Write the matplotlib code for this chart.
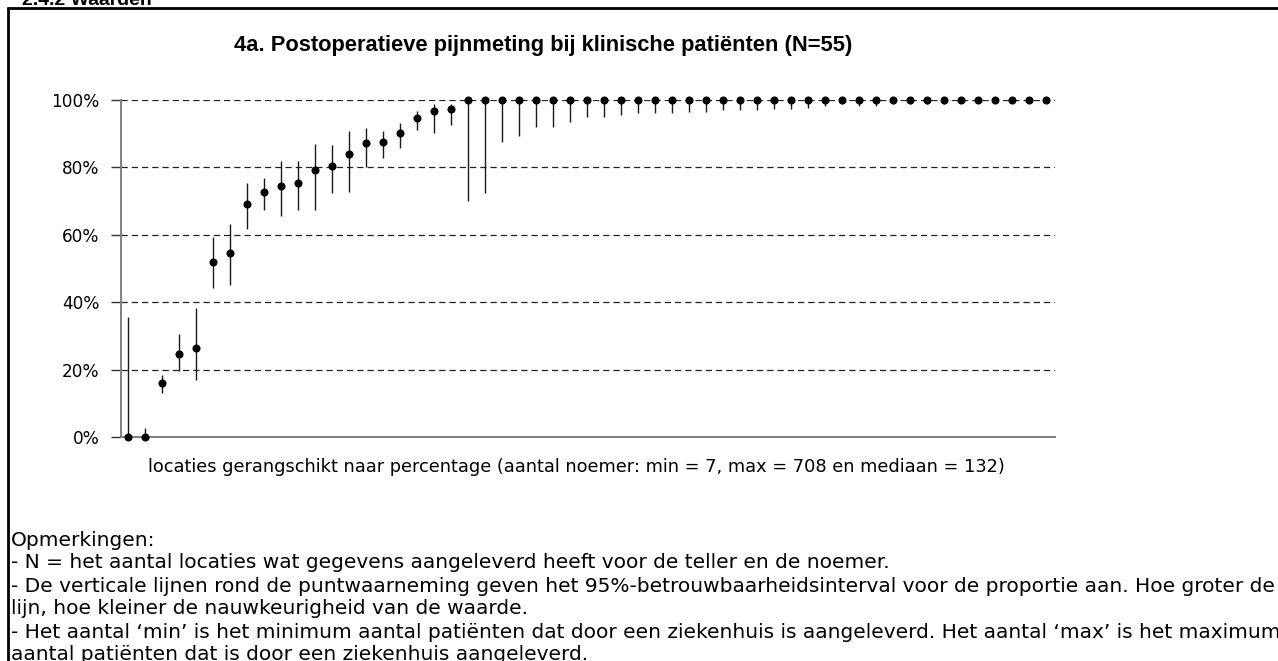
import matplotlib
matplotlib.use("Agg")
import matplotlib.pyplot as plt
from matplotlib.lines import Line2D

# ---------------- data ----------------
rate = [0, 0, 15.9, 24.7, 26.4, 52.0, 54.7, 69.0, 72.6, 74.4, 75.3, 79.2, 80.5, 84.1,
        87.1, 87.6, 90.2, 94.7, 96.8, 97.2] + [100] * 35
lower = [0, 0, 13.0, 19.5, 16.8, 44.2, 45.0, 61.7, 67.5, 65.7, 67.5, 67.5, 72.4, 72.7,
         80.1, 82.8, 85.9, 91.2, 90.3, 92.5,
         70.0, 72.3, 87.6, 89.3, 92.0, 92.0, 93.4,
         95.1, 95.1, 95.5, 96.0, 96.0, 96.0, 96.4, 96.4, 96.9, 96.9, 96.9, 97.3, 97.3,
         97.7,
         98.2, 98.7, 98.2, 98.2, 98.7, 98.7, 98.7, 98.7, 99.0, 99.0, 99.0, 99.2, 99.4, 99.6]
upper = [35.5, 2.7, 18.4, 30.7, 38.2, 59.3, 63.3, 75.5, 76.8, 81.8, 81.8, 87.0, 86.5, 90.9,
         91.8, 90.9, 93.1, 96.6, 98.8, 98.8] + [100] * 35
yticks = [0, 20, 40, 60, 80, 100]
ytick_labels = ["0%", "20%", "40%", "60%", "80%", "100%"]

header = "2.4.2 Waarden"
title = "4a. Postoperatieve pijnmeting bij klinische patiënten (N=55)"
xlabel = ("locaties gerangschikt naar percentage (aantal noemer: min = 7, "
          "max = 708 en mediaan = 132)")
notes = [
    "Opmerkingen:",
    "- N = het aantal locaties wat gegevens aangeleverd heeft voor de teller en de noemer.",
    "- De verticale lijnen rond de puntwaarneming geven het 95%-betrouwbaarheidsinterval voor de proportie aan. Hoe groter de",
    "lijn, hoe kleiner de nauwkeurigheid van de waarde.",
    "- Het aantal \u2018min\u2019 is het minimum aantal patiënten dat door een ziekenhuis is aangeleverd. Het aantal \u2018max\u2019 is het maximum",
    "aantal patiënten dat is door een ziekenhuis aangeleverd.",
]

# ---------------- figure ----------------
W, H = 1278, 661
fig = plt.figure(figsize=(W / 100, H / 100), dpi=100)
plt.rcParams['font.family'] = ['DejaVu Sans']


def fx(x):
    return x / W


def fy(y):
    return 1 - y / H


# document box
fig.add_artist(Line2D([fx(8), fx(8)], [fy(7), fy(H + 5)], color='black', lw=2.0,
                      solid_capstyle='butt'))
fig.add_artist(Line2D([fx(7), fx(W + 5)], [fy(7.5), fy(7.5)], color='black', lw=2.0,
                      solid_capstyle='butt'))

# axes placement
ax_l, ax_r, ax_t, ax_b = 121, 1055, 100, 437
ax = fig.add_axes([fx(ax_l), fy(ax_b), (ax_r - ax_l) / W, (ax_b - ax_t) / H])
n = len(rate)
x = list(range(1, n + 1))
ax.set_xlim(0.57, n + 0.55)
ax.set_ylim(0, 100)

for yv in yticks[1:]:
    ax.axhline(yv, color='#222222', lw=0.9, linestyle=(0, (5.0, 3.2)), zorder=1)

ax.vlines(x, lower, upper, color='#1a1a1a', lw=1.0, zorder=2)
ax.plot(x, rate, 'o', color='black', markersize=4.8, zorder=3, clip_on=False)

for s in ['top', 'right']:
    ax.spines[s].set_visible(False)
for s in ['left', 'bottom']:
    ax.spines[s].set_color('#808080')
    ax.spines[s].set_linewidth(1.4)
ax.set_xticks([])
ax.set_yticks(yticks)
ax.set_yticklabels(ytick_labels)
ax.tick_params(axis='y', length=7, width=1.0, color='#333333', pad=8.5, labelsize=12.2)

# texts
t_head = fig.text(fx(22), fy(5), header, fontsize=14, fontweight='bold',
                  ha='left', va='baseline', family=['Liberation Sans'])
t_title = fig.text(fx(543), fy(45), title, fontsize=11.5, fontweight='bold',
                   ha='center', va='center', family=['Liberation Sans'])
t_xl = fig.text(fx(576), fy(467), xlabel, fontsize=10.5, ha='center', va='center')
note_y = [540, 563, 586, 609, 632, 655]
t_notes = [fig.text(fx(11), fy(yy), s, fontsize=11, ha='left', va='center')
           for s, yy in zip(notes, note_y)]

# fit text widths to the reference
fig.canvas.draw()
r = fig.canvas.get_renderer()


def fit(t, target):
    bb = t.get_window_extent(r)
    return t.get_fontsize() * target / bb.width


t_head.set_fontsize(fit(t_head, 130))
t_title.set_fontsize(fit(t_title, 623))
t_xl.set_fontsize(fit(t_xl, 862))
fs_notes = fit(t_notes[2], 1264)
for t in t_notes:
    t.set_fontsize(fs_notes)

fig.savefig("out.png", dpi=100)
